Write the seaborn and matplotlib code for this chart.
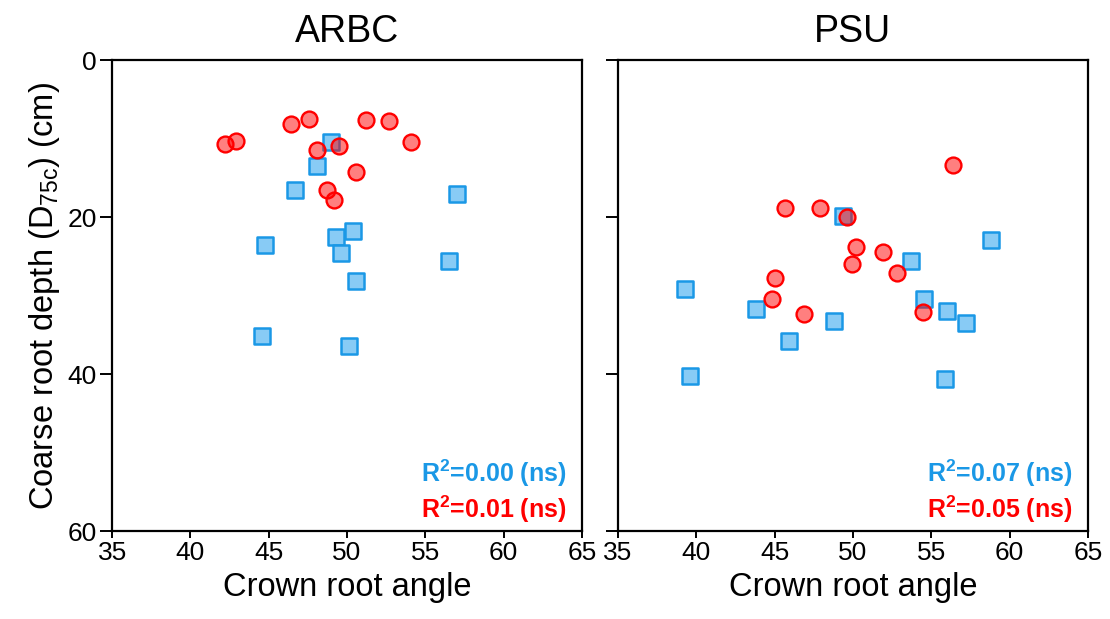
# ==============================================
# Crown root angle vs coarse root depth (ARBC / PSU)
# saves out.png
# ==============================================

import pandas as pd
import matplotlib.pyplot as plt
import seaborn as sns

# ----------------------
# 1. data
# ----------------------
sites = ["ARBC", "PSU"]

# blue squares
arbc_blue_angle = [49.0, 48.1, 46.7, 57.0, 50.4, 49.3, 44.75, 49.6, 56.5, 50.55, 44.55, 50.1]
arbc_blue_depth = [10.5, 13.5, 16.6, 17.1, 21.8, 22.5, 23.5, 24.6, 25.6, 28.2, 35.1, 36.4]
# red circles
arbc_red_angle = [42.2, 42.9, 46.4, 47.6, 51.2, 52.7, 54.1, 48.1, 49.5, 50.55, 48.7, 49.15]
arbc_red_depth = [10.7, 10.3, 8.15, 7.56, 7.7, 7.8, 10.4, 11.5, 11.0, 14.2, 16.6, 17.8]

psu_blue_angle = [49.36, 58.85, 53.7, 39.3, 54.55, 43.8, 56.0, 48.8, 57.2, 45.9, 39.6, 55.9]
psu_blue_depth = [19.9, 22.9, 25.6, 29.2, 30.5, 31.7, 32.0, 33.3, 33.5, 35.8, 40.2, 40.6]
psu_red_angle = [56.4, 45.66, 47.9, 49.6, 50.2, 51.9, 49.95, 52.8, 45.0, 44.85, 46.9, 54.45]
psu_red_depth = [13.4, 18.9, 18.8, 20.0, 23.8, 24.4, 26.0, 27.1, 27.7, 30.5, 32.3, 32.1]

r2_blue = ["0.00", "0.07"]
r2_red = ["0.01", "0.05"]

rows = []
for site, ba, bd, ra, rd in [
    ("ARBC", arbc_blue_angle, arbc_blue_depth, arbc_red_angle, arbc_red_depth),
    ("PSU", psu_blue_angle, psu_blue_depth, psu_red_angle, psu_red_depth),
]:
    rows += [(site, "blue", a, d) for a, d in zip(ba, bd)]
    rows += [(site, "red", a, d) for a, d in zip(ra, rd)]
df = pd.DataFrame(rows, columns=["site", "group", "angle", "depth"])

# ----------------------
# 2. style
# ----------------------
sns.set_style("ticks")
plt.rcParams["font.family"] = ["Liberation Sans", "DejaVu Sans"]
plt.rcParams["mathtext.fontset"] = "custom"
plt.rcParams["mathtext.rm"] = "Liberation Sans"
plt.rcParams["mathtext.bf"] = "Liberation Sans:bold"
plt.rcParams["text.color"] = "black"
plt.rcParams["axes.labelcolor"] = "black"
plt.rcParams["xtick.color"] = "black"
plt.rcParams["ytick.color"] = "black"

BLUE_EDGE = "#1a98e6"
BLUE_FACE = "#88cbf5"
RED_EDGE = "#ff0000"
RED_FACE = (1.0, 0.0, 0.0, 0.5)

fig, axes = plt.subplots(1, 2, figsize=(11.1, 6.19), dpi=100, sharey=True)
fig.subplots_adjust(left=0.101, right=0.980, bottom=0.142, top=0.903, wspace=0.077)

# ----------------------
# 3. scatter
# ----------------------
for i, (ax, site) in enumerate(zip(axes, sites)):
    sub = df[df["site"] == site]
    b = sub[sub["group"] == "blue"]
    r = sub[sub["group"] == "red"]
    sns.scatterplot(data=b, x="angle", y="depth", ax=ax, marker="s", s=130,
                    color=BLUE_FACE, edgecolor=BLUE_EDGE, linewidth=1.8, zorder=3)
    sns.scatterplot(data=r, x="angle", y="depth", ax=ax, marker="o", s=130,
                    color=RED_FACE, edgecolor=RED_EDGE, linewidth=1.7, zorder=4)

    ax.set_xlim(35, 65)
    ax.set_xticks(range(35, 66, 5))
    ax.set_ylim(60, 0)
    ax.set_yticks([0, 20, 40, 60])
    ax.set_title(site, fontsize=27, pad=13, color="black")
    ax.set_xlabel("Crown root angle", fontsize=23.5, labelpad=5)
    ax.set_ylabel("")
    for sp in ax.spines.values():
        sp.set_visible(True)
        sp.set_linewidth(1.6)
        sp.set_color("black")
    ax.tick_params(axis="x", direction="out", length=5, width=1.4, labelsize=19, pad=2)
    ax.tick_params(axis="y", direction="out", length=9, width=1.4, labelsize=19, pad=2)

    ax.text(0.968, 0.122, r"R$^{\mathbf{2}}$=" + r2_blue[i] + " (ns)", transform=ax.transAxes,
            ha="right", va="center", fontsize=18, fontweight="bold", color=BLUE_EDGE)
    ax.text(0.968, 0.047, r"R$^{\mathbf{2}}$=" + r2_red[i] + " (ns)", transform=ax.transAxes,
            ha="right", va="center", fontsize=18, fontweight="bold", color=RED_EDGE)

axes[0].set_ylabel(r"Coarse root depth (D$_{\mathregular{75c}}$) (cm)", fontsize=23.5, labelpad=4)

# ----------------------
# 4. save
# ----------------------
plt.savefig("out.png", dpi=100)
plt.close()
